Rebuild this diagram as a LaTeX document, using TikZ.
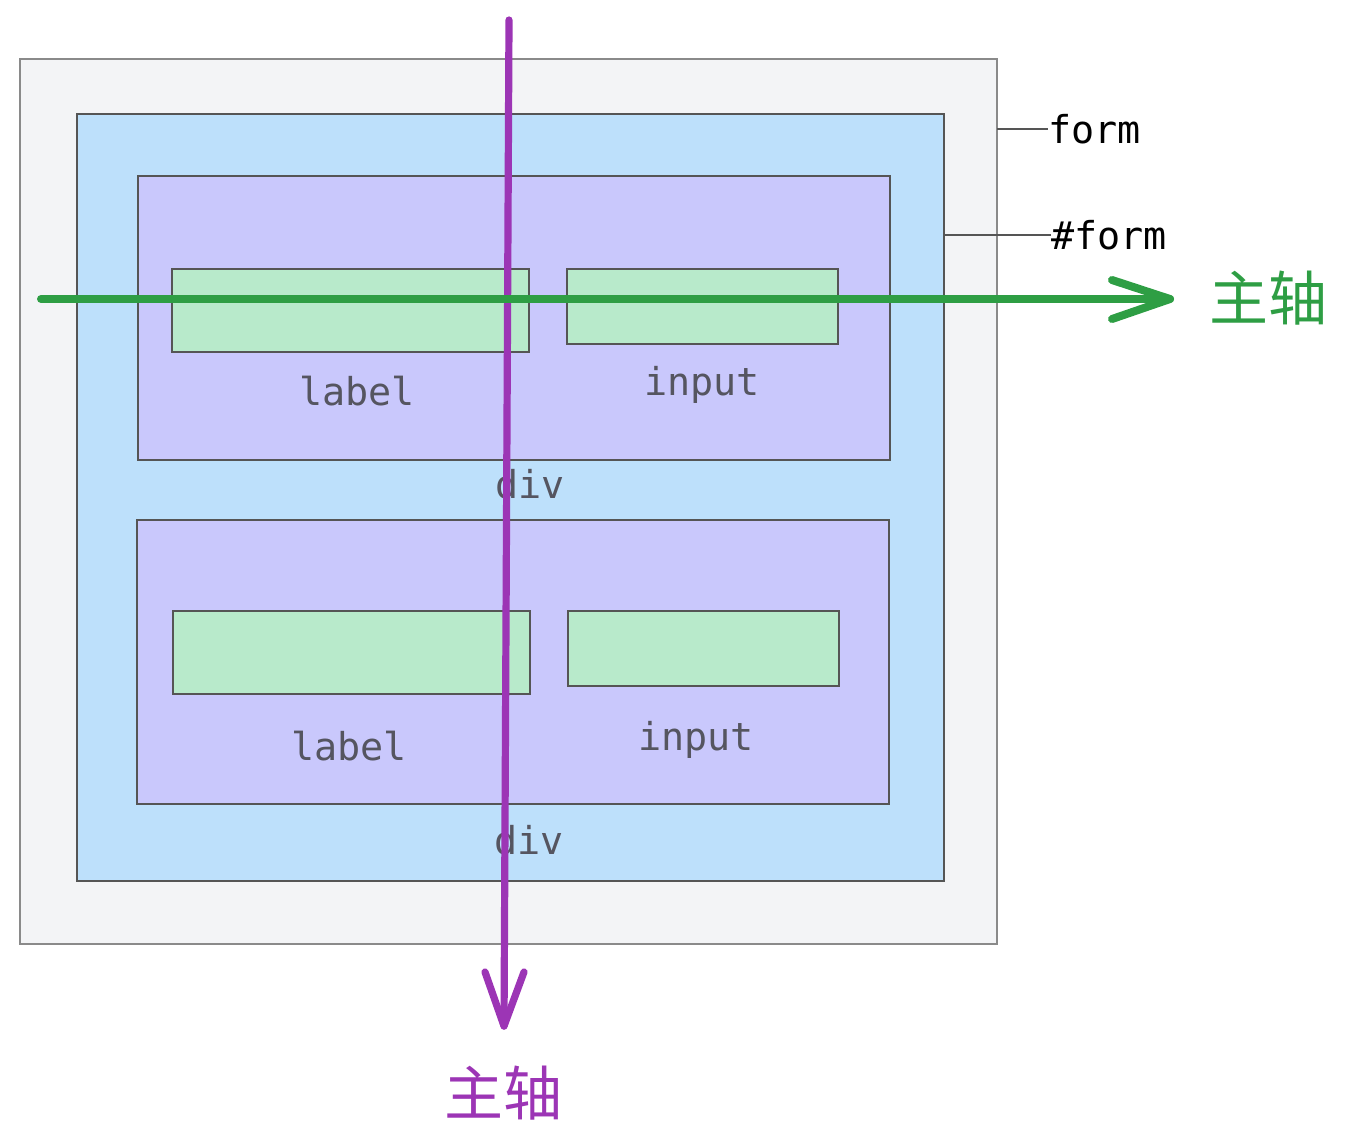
\documentclass[tikz,border=0pt]{standalone}
\usepackage{fontspec}
\setmonofont{DejaVu Sans Mono}
\newfontfamily\cjk{Noto Sans CJK SC}
\definecolor{formfill}{HTML}{F3F4F6}
\definecolor{formline}{HTML}{8A8A8A}
\definecolor{idfill}{HTML}{BDE0FB}
\definecolor{divfill}{HTML}{C9C8FC}
\definecolor{itemfill}{HTML}{B8EACB}
\definecolor{boxline}{HTML}{555555}
\definecolor{txtgray}{HTML}{555560}
\definecolor{axgreen}{HTML}{2E9E44}
\definecolor{axpurple}{HTML}{9C35B5}
\tikzset{
  formbox/.style={fill=formfill,draw=formline,line width=1pt},
  idbox/.style={fill=idfill,draw=boxline,line width=0.8pt},
  divbox/.style={fill=divfill,draw=boxline,line width=0.8pt},
  itembox/.style={fill=itemfill,draw=boxline,line width=0.8pt},
  boxtext/.style={font=\ttfamily\fontsize{19.2pt}{21pt}\selectfont,text=txtgray,inner sep=0pt},
  tagtext/.style={font=\ttfamily\fontsize{19.2pt}{21pt}\selectfont,text=black,inner sep=0pt,anchor=west},
  leader/.style={draw=boxline,line width=0.7pt},
  axisg/.style={draw=axgreen,line width=4pt,line cap=round,line join=round},
  axisp/.style={draw=axpurple,line width=3.6pt,line cap=round,line join=round},
  axtext/.style={font=\cjk\fontsize{29.5pt}{31pt}\selectfont,inner sep=0pt},
}
\begin{document}
\begin{tikzpicture}[x=0.5pt,y=-0.5pt]
\useasboundingbox (0,0) rectangle (1347,1147);
% boxes
\draw[formbox] (20,59) rectangle (997,944);
\draw[idbox] (77,114) rectangle (944,881);
\draw[divbox] (138,176) rectangle (890,460);
\draw[itembox] (172,269) rectangle (529,352);
\draw[itembox] (567,269) rectangle (838,344);
\draw[divbox] (137,520) rectangle (889,804);
\draw[itembox] (173,611) rectangle (530,694);
\draw[itembox] (568,611) rectangle (839,686);
% texts
\node[boxtext] (l1) at (357,391) {label};
\node[boxtext] (i1) at (702,385) {input};
\node[boxtext] (d1) at (530,484) {div};
\node[boxtext] (l2) at (349,746) {label};
\node[boxtext] (i2) at (696,740) {input};
\node[boxtext] (d2) at (529,840) {div};
% tags
\coordinate (fa) at (997,129);
\coordinate (ia) at (944,235);
\node[tagtext] (ft) at (1048,129) {form};
\node[tagtext] (it) at (1051,235) {\#form};
\draw[leader] (fa) -- (ft.west);
\draw[leader] (ia) -- (it.west);
% purple axis
\coordinate (ps) at (509,20);
\coordinate (pe) at (504,1026);
\draw[axisp] (ps) -- (pe);
\draw[axisp] (485,972) -- (pe) -- (524,972);
\node[axtext,text=axpurple] (pt) at (503,1093) {主轴};
% green axis
\coordinate (gs) at (41,299);
\coordinate (ge) at (1170,299);
\draw[axisg] (gs) -- (ge);
\draw[axisg] (1112,280) -- (ge) -- (1112,319);
\node[axtext,text=axgreen] (gt) at (1268,298) {主轴};
\end{tikzpicture}
\end{document}
